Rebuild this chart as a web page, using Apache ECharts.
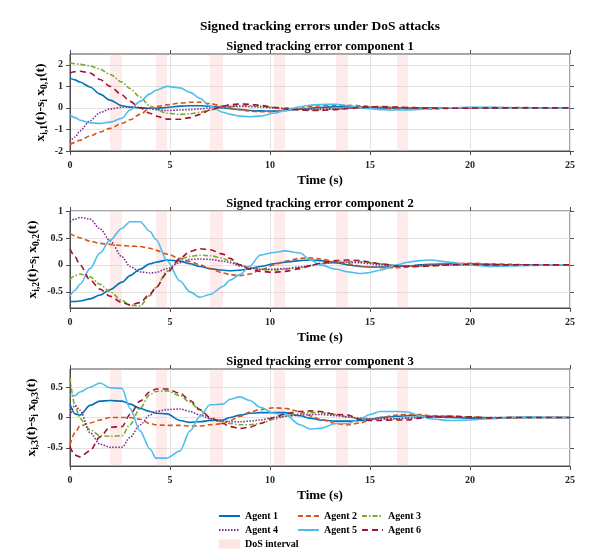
<!DOCTYPE html>
<html>
<head>
<meta charset="utf-8">
<script src="https://cdn.jsdelivr.net/npm/echarts@6/dist/echarts.min.js"></script>
<style>html,body{margin:0;background:#fff}#main{width:612px;height:555px}</style>
</head>
<body>
<div id="main"></div>
<script>
// sample times (s)
var T = [0, 0.25, 0.5, 1, 1.5, 2, 2.6, 3, 3.5, 4, 4.3, 4.85, 5.5, 6, 6.5, 7, 7.65, 8, 8.5, 9,
         9.5, 10.2, 10.75, 11.5, 12, 12.5, 13.3, 13.9, 14.5, 15, 15.5, 16.35, 16.9, 17.5, 18, 19,
         20, 21, 22, 23, 24, 25];

// DoS attack intervals
var dosStart = [2.0, 4.3, 7.0, 10.2, 13.3, 16.35];
var dosEnd   = [2.6, 4.85, 7.65, 10.75, 13.9, 16.9];

var agentNames = ['Agent 1', 'Agent 2', 'Agent 3', 'Agent 4', 'Agent 5', 'Agent 6'];
var agentColors = ['#0072BD', '#D95319', '#77AC30', '#7E2F8E', '#4DBEEE', '#A2142F'];
var agentDash = ['solid', [5, 3], [5, 2, 1.5, 2], [1.5, 1.5], 'solid', [6, 4]];

// component 1
var c1a1 = [1.38, 1.3, 1.2, 0.97, 0.64, 0.36, 0.1, 0.03, 0.0, -0.02, -0.02, 0.02, 0.08, 0.1, 0.1, 0.07, 0.0, -0.04, -0.08, -0.12, -0.14, -0.15, -0.12, -0.06, -0.02, 0.02, 0.05, 0.05, 0.04, 0.02, 0.0, -0.02, -0.02, -0.02, -0.01, 0.0, 0.01, 0.01, 0, 0, 0, 0];
var c1a2 = [-1.7, -1.6, -1.5, -1.3, -1.12, -0.95, -0.72, -0.55, -0.3, 0.0, 0.06, 0.14, 0.22, 0.26, 0.26, 0.2, 0.08, 0.0, -0.08, -0.15, -0.18, -0.18, -0.12, -0.03, 0.05, 0.1, 0.12, 0.12, 0.1, 0.06, 0.02, -0.04, -0.06, -0.06, -0.05, -0.02, 0.0, 0.01, 0.01, 0.01, 0, 0];
var c1a3 = [2.08, 2.05, 2.02, 1.95, 1.8, 1.55, 1.2, 0.9, 0.5, 0.08, -0.08, -0.25, -0.3, -0.28, -0.2, -0.1, 0.02, 0.07, 0.1, 0.1, 0.08, 0.03, 0.0, -0.05, -0.07, -0.07, -0.05, -0.02, 0.01, 0.03, 0.03, 0.02, 0.01, 0.0, -0.01, -0.01, 0.0, 0.01, 0, 0, 0, 0];
var c1a4 = [-1.58, -1.35, -1.07, -0.6, -0.22, -0.05, 0.03, 0.05, 0.02, -0.04, -0.08, -0.12, -0.1, -0.08, -0.05, 0.0, 0.05, 0.07, 0.07, 0.06, 0.04, 0.0, -0.03, -0.06, -0.07, -0.06, -0.04, -0.02, 0.0, 0.02, 0.02, 0.01, 0.0, -0.01, -0.01, 0.0, 0.0, 0.0, 0, 0, 0, 0];
var c1a5 = [-0.33, -0.45, -0.57, -0.69, -0.72, -0.66, -0.48, -0.1, 0.3, 0.65, 0.82, 1.0, 0.93, 0.72, 0.45, 0.08, -0.2, -0.3, -0.38, -0.41, -0.38, -0.25, -0.12, 0.05, 0.12, 0.16, 0.17, 0.1, 0.02, -0.04, -0.08, -0.1, -0.1, -0.07, -0.04, 0.0, 0.02, 0.02, 0.0, -0.01, 0, 0];
var c1a6 = [1.62, 1.68, 1.7, 1.62, 1.32, 1.0, 0.6, 0.3, 0.0, -0.25, -0.38, -0.52, -0.53, -0.45, -0.3, -0.1, 0.08, 0.15, 0.18, 0.17, 0.12, 0.02, -0.05, -0.1, -0.12, -0.12, -0.08, -0.03, 0.02, 0.05, 0.06, 0.04, 0.02, 0.0, -0.02, -0.02, -0.01, 0, 0, 0, 0, 0];

// component 2
var c2a1 = [-0.68, -0.68, -0.67, -0.63, -0.56, -0.46, -0.32, -0.2, -0.08, 0.02, 0.05, 0.09, 0.07, 0.02, -0.03, -0.07, -0.1, -0.11, -0.1, -0.07, -0.03, 0.02, 0.05, 0.08, 0.09, 0.08, 0.04, 0.0, -0.03, -0.04, -0.04, -0.03, -0.02, 0.0, 0.01, 0.02, 0.02, 0.01, 0, 0, 0, 0];
var c2a2 = [0.58, 0.54, 0.5, 0.44, 0.4, 0.38, 0.36, 0.35, 0.34, 0.31, 0.27, 0.2, 0.12, 0.06, 0.0, -0.07, -0.15, -0.18, -0.2, -0.17, -0.1, 0.0, 0.07, 0.12, 0.13, 0.11, 0.06, 0.02, -0.02, -0.04, -0.05, -0.05, -0.04, -0.02, 0.0, 0.02, 0.03, 0.02, 0.01, 0, 0, 0];
var c2a3 = [-0.27, -0.2, -0.17, -0.22, -0.36, -0.5, -0.66, -0.75, -0.76, -0.57, -0.42, -0.12, 0.1, 0.16, 0.18, 0.17, 0.12, 0.07, 0.0, -0.05, -0.08, -0.1, -0.08, -0.05, -0.02, 0.02, 0.05, 0.06, 0.06, 0.04, 0.02, -0.01, -0.02, -0.02, -0.01, 0.01, 0.01, 0.0, 0, 0, 0, 0];
var c2a4 = [0.8, 0.85, 0.88, 0.85, 0.67, 0.45, 0.15, -0.03, -0.13, -0.15, -0.14, -0.07, 0.04, 0.1, 0.11, 0.1, 0.07, 0.04, -0.02, -0.06, -0.08, -0.08, -0.07, -0.04, -0.01, 0.02, 0.04, 0.05, 0.04, 0.02, 0.0, -0.02, -0.02, -0.01, 0.0, 0.0, 0.0, 0.0, 0, 0, 0, 0];
var c2a5 = [-0.58, -0.47, -0.36, -0.07, 0.22, 0.46, 0.68, 0.8, 0.8, 0.62, 0.47, 0.08, -0.3, -0.5, -0.6, -0.55, -0.4, -0.28, -0.18, -0.02, 0.18, 0.23, 0.26, 0.22, 0.1, 0.0, -0.08, -0.13, -0.16, -0.14, -0.1, 0.0, 0.05, 0.08, 0.09, 0.05, 0.0, -0.03, -0.02, -0.01, 0, 0];
var c2a6 = [0.3, 0.15, 0.0, -0.28, -0.45, -0.58, -0.7, -0.74, -0.7, -0.54, -0.42, -0.15, 0.12, 0.25, 0.3, 0.28, 0.2, 0.12, 0.0, -0.08, -0.12, -0.14, -0.12, -0.07, -0.02, 0.03, 0.08, 0.09, 0.08, 0.05, 0.02, -0.02, -0.03, -0.03, -0.02, 0.0, 0.01, 0.0, 0, 0, 0, 0];

// component 3
var c3a1 = [0.22, 0.06, 0.04, 0.2, 0.27, 0.28, 0.27, 0.22, 0.15, 0.1, 0.07, 0.06, -0.05, -0.08, -0.07, -0.05, -0.04, 0.0, 0.04, 0.07, 0.08, 0.08, 0.08, 0.03, -0.01, -0.04, -0.06, -0.06, -0.05, -0.03, 0.0, 0.02, 0.03, 0.03, 0.02, 0.0, -0.01, -0.01, 0, 0, 0, 0];
var c3a2 = [-0.45, -0.25, -0.14, -0.09, -0.04, 0.0, 0.0, 0.0, -0.03, -0.1, -0.12, -0.13, -0.13, -0.14, -0.14, -0.12, -0.1, -0.05, 0.02, 0.09, 0.13, 0.16, 0.15, 0.1, 0.03, -0.03, -0.1, -0.12, -0.09, -0.04, 0.0, 0.04, 0.05, 0.05, 0.03, 0.02, 0.0, -0.01, -0.01, 0, 0, 0];
var c3a3 = [0.65, 0.2, -0.02, -0.2, -0.3, -0.31, -0.3, -0.12, 0.15, 0.38, 0.43, 0.44, 0.36, 0.25, 0.12, -0.02, -0.07, -0.1, -0.12, -0.12, -0.1, -0.03, 0.02, 0.06, 0.08, 0.08, 0.05, 0.01, -0.02, -0.03, -0.03, -0.02, -0.01, 0.0, 0.01, 0.02, 0.01, 0, 0, 0, 0, 0];
var c3a4 = [0.03, 0.2, 0.12, -0.25, -0.44, -0.49, -0.49, -0.33, -0.12, 0.04, 0.1, 0.13, 0.14, 0.1, 0.04, -0.02, -0.06, -0.07, -0.07, -0.06, -0.04, 0.0, 0.02, 0.04, 0.05, 0.05, 0.03, 0.01, -0.01, -0.02, -0.02, -0.02, -0.01, 0.0, 0.01, 0.01, 0.0, 0, 0, 0, 0, 0];
var c3a5 = [0.37, 0.36, 0.42, 0.5, 0.57, 0.49, 0.48, 0.15, -0.22, -0.52, -0.67, -0.67, -0.55, -0.22, 0.02, 0.21, 0.22, 0.3, 0.34, 0.28, 0.17, 0.07, 0.05, -0.12, -0.19, -0.18, -0.1, -0.1, -0.02, 0.05, 0.1, 0.1, 0.09, 0.03, -0.02, -0.05, -0.04, -0.02, 0.0, 0.01, 0, 0];
var c3a6 = [-0.48, -0.62, -0.65, -0.55, -0.32, -0.16, -0.15, 0.05, 0.27, 0.42, 0.47, 0.47, 0.4, 0.28, 0.13, 0.0, -0.1, -0.15, -0.18, -0.16, -0.1, 0.0, 0.06, 0.1, 0.11, 0.1, 0.05, 0.04, -0.03, -0.05, -0.05, -0.04, -0.04, -0.01, 0.01, 0.02, 0.01, -0.01, 0, 0, 0, 0];

var components = [
  [c1a1, c1a2, c1a3, c1a4, c1a5, c1a6],
  [c2a1, c2a2, c2a3, c2a4, c2a5, c2a6],
  [c3a1, c3a2, c3a3, c3a4, c3a5, c3a6]
];
var yMin = [-2, -0.8, -0.8];
var yMax = [2.5, 1, 0.8];
var yTicks = [[-2, -1, 0, 1, 2], [-0.5, 0, 0.5, 1], [-0.5, 0, 0.5]];
var xTicks = [0, 5, 10, 15, 20, 25];

var font = 'Liberation Serif';
var gridTop = [54, 211, 369];
var yNameGap = [20, 28, 29];
var axisCol = '#4d4d4d';
var dosCol = 'rgba(250,170,170,0.24)';

var grids = [], xAxes = [], yAxes = [], series = [], titles = [];

titles.push({
  text: 'Signed tracking errors under DoS attacks', left: 320, top: 20, textAlign: 'center', padding: 0,
  textStyle: {fontFamily: font, fontSize: 13.5, fontWeight: 'bold', color: '#000'}
});

var bands = [];
for (var b = 0; b < dosStart.length; b++) bands.push([{xAxis: dosStart[b]}, {xAxis: dosEnd[b]}]);

for (var p = 0; p < 3; p++) {
  grids.push({left: 70, right: 42, top: gridTop[p], height: 97, show: true, borderColor: axisCol, borderWidth: 1});
  titles.push({
    text: 'Signed tracking error component ' + (p + 1), left: 320, top: gridTop[p] - 14, textAlign: 'center', padding: 0,
    textStyle: {fontFamily: font, fontSize: 12.5, fontWeight: 'bold', color: '#000'}
  });
  xAxes.push({
    type: 'value', gridIndex: p, min: 0, max: 25, position: 'bottom',
    name: 'Time (s)', nameLocation: 'middle', nameGap: 23,
    nameTextStyle: {fontFamily: font, fontSize: 13, fontWeight: 'bold', color: '#000'},
    axisLine: {onZero: false, lineStyle: {color: axisCol, width: 1}},
    axisTick: {customValues: xTicks, length: 4, lineStyle: {color: axisCol}},
    axisLabel: {customValues: xTicks, margin: 9, fontFamily: font, fontSize: 10, fontWeight: 'bold', color: '#262626'},
    splitLine: {show: true, customValues: xTicks, lineStyle: {color: '#e3e3e3', width: 1}}
  });
  xAxes.push({
    type: 'value', gridIndex: p, min: 0, max: 25, position: 'top',
    axisLine: {show: false, onZero: false},
    axisTick: {customValues: xTicks, length: 4, lineStyle: {color: axisCol}},
    axisLabel: {show: false}, splitLine: {show: false}
  });
  var nm = p + 1;
  yAxes.push({
    type: 'value', gridIndex: p, min: yMin[p], max: yMax[p], position: 'left',
    name: '{m|x}{s|i,' + nm + '}{m|(t)-s}{s|i}{m| x}{s|0,' + nm + '}{m|(t)}',
    nameLocation: 'middle', nameRotate: 90, nameGap: yNameGap[p], nameMoveOverlap: false,
    nameTextStyle: {
      rich: {
        m: {fontFamily: font, fontSize: 13.5, fontWeight: 'bold', color: '#000'},
        s: {fontFamily: font, fontSize: 9.5, fontWeight: 'bold', color: '#000', padding: [8, 0, 0, 0]}
      }
    },
    axisLine: {show: true, onZero: false, lineStyle: {color: axisCol, width: 1}},
    axisTick: {show: true, customValues: yTicks[p], length: 4, lineStyle: {color: axisCol}},
    axisLabel: {customValues: yTicks[p], margin: 7, fontFamily: font, fontSize: 10, fontWeight: 'bold', color: '#262626'},
    splitLine: {show: true, customValues: yTicks[p], lineStyle: {color: '#e3e3e3', width: 1}}
  });
  yAxes.push({
    type: 'value', gridIndex: p, min: yMin[p], max: yMax[p], position: 'right',
    axisLine: {show: false, onZero: false},
    axisTick: {show: true, customValues: yTicks[p], length: 4, lineStyle: {color: axisCol}},
    axisLabel: {show: false}, splitLine: {show: false}
  });

  series.push({
    name: 'DoS interval', type: 'line', xAxisIndex: 2 * p, yAxisIndex: 2 * p, data: [],
    color: dosCol, itemStyle: {color: dosCol},
    markArea: {silent: true, itemStyle: {color: dosCol}, data: bands}
  });

  for (var a = 0; a < 6; a++) {
    var vals = components[p][a];
    var pts = [];
    for (var i = 0; i < T.length; i++) pts.push([T[i], vals[i]]);
    series.push({
      name: agentNames[a], type: 'line', xAxisIndex: 2 * p, yAxisIndex: 2 * p,
      data: pts, showSymbol: false, symbol: 'none', smooth: 0.3, smoothMonotone: 'x',
      color: agentColors[a],
      lineStyle: {color: agentColors[a], width: 1.6, type: agentDash[a]}
    });
  }
}

var legendText = {fontFamily: font, fontSize: 10, fontWeight: 'bold', color: '#000'};
var legendBase = {orient: 'vertical', top: 511, itemWidth: 21, itemHeight: 9, itemGap: 4, padding: 0,
                  selectedMode: false, textStyle: legendText, itemStyle: {opacity: 0}};

var option = {
  animation: false,
  backgroundColor: '#fff',
  title: titles,
  grid: grids,
  xAxis: xAxes,
  yAxis: yAxes,
  legend: [
    Object.assign({}, legendBase, {left: 218, data: ['Agent 1', 'Agent 4',
      {name: 'DoS interval', icon: 'rect', itemStyle: {color: 'rgba(250,170,170,0.3)', opacity: 1}}]}),
    Object.assign({}, legendBase, {left: 297, data: ['Agent 2', 'Agent 5']}),
    Object.assign({}, legendBase, {left: 361, data: ['Agent 3', 'Agent 6']})
  ],
  series: series
};

var myChart = echarts.init(document.getElementById('main'));
myChart.setOption(option);
</script>
</body>
</html>
